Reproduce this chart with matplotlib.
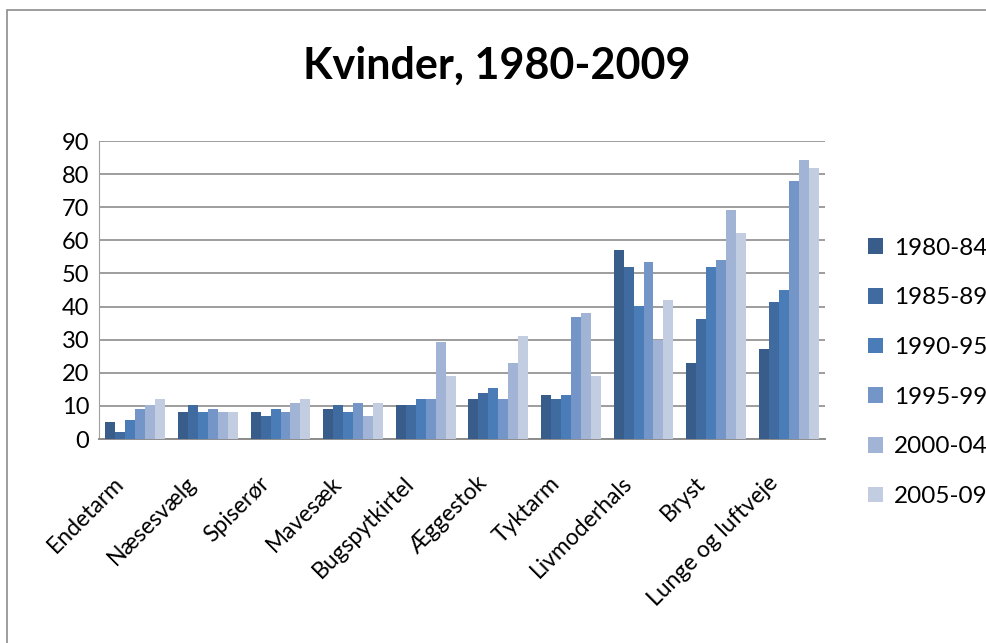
import matplotlib
matplotlib.use("Agg")
import matplotlib.pyplot as plt
import numpy as np
from matplotlib.patches import Patch, Rectangle
from matplotlib.transforms import ScaledTranslation

plt.rcParams['font.family'] = ['Lato', 'DejaVu Sans']

categories = ["Endetarm", "Næsesvælg", "Spiserør", "Mavesæk", "Bugspytkirtel",
              "Æggestok", "Tyktarm", "Livmoderhals", "Bryst", "Lunge og luftveje"]
periods = ["1980-84", "1985-89", "1990-95", "1995-99", "2000-04", "2005-09"]

s1980 = [5.1, 8.2, 8.2, 9.1, 10.2, 12.1, 13.3, 57.1, 23.0, 27.2]
s1985 = [2.1, 10.2, 6.9, 10.2, 10.2, 13.9, 12.1, 52.0, 36.3, 41.4]
s1990 = [5.7, 8.2, 9.1, 8.2, 12.1, 15.4, 13.3, 40.2, 52.0, 45.0]
s1995 = [9.1, 9.1, 8.2, 10.9, 12.1, 12.1, 36.9, 53.5, 54.1, 77.9]
s2000 = [10.2, 8.2, 10.9, 6.9, 29.3, 23.0, 38.1, 29.9, 69.2, 84.3]
s2005 = [12.1, 8.2, 12.1, 10.9, 19.0, 31.1, 19.0, 42.0, 62.2, 81.9]
series = [s1980, s1985, s1990, s1995, s2000, s2005]
colors = ["#385D8A", "#406BA0", "#4A7CB7", "#7395C8", "#A2B4D6", "#C3CDE2"]
yticks = [0, 10, 20, 30, 40, 50, 60, 70, 80, 90]

W, H = 986, 643
fig = plt.figure(figsize=(W / 100, H / 100), dpi=100)
ax = fig.add_axes([99 / W, 1 - 439 / H, (825 - 99) / W, (439 - 141) / H])

x = np.arange(len(categories))
bw = 0.1377
for i, (vals, c) in enumerate(zip(series, colors)):
    ax.bar(x + (i - 2.5) * bw, vals, width=bw, color=c, edgecolor='none',
           label=periods[i], zorder=3)

ax.set_xlim(-0.5, len(categories) - 0.5)
ax.set_ylim(0, 90)
ax.set_yticks(yticks)
ax.set_yticklabels([str(v) for v in yticks], fontsize=17)
ax.yaxis.grid(True, color='#8C8C8C', linewidth=1.2, zorder=0)
ax.set_axisbelow(True)
ax.tick_params(axis='y', length=0, pad=7)
ax.tick_params(axis='x', length=0, pad=4)
ax.set_xticks(x)
ax.set_xticklabels(categories, rotation=45, ha='right', va='top',
                   rotation_mode='anchor', fontsize=16.5)
offset = ScaledTranslation(-22 / 100, -28 / 100, fig.dpi_scale_trans)
for lbl in ax.get_xticklabels():
    lbl.set_transform(lbl.get_transform() + offset)
for s in ['top', 'right']:
    ax.spines[s].set_visible(False)
ax.spines['left'].set_color('#A0A0A0')
ax.spines['bottom'].set_color('#8C8C8C')
ax.spines['bottom'].set_linewidth(1.4)

fig.text(497 / W, 1 - 66 / H, "Kvinder, 1980-2009", ha='center', va='center',
         fontsize=31, fontweight='bold')

handles = [Patch(facecolor=c, edgecolor='none') for c in colors]
fig.legend(handles, periods, loc='upper left', bbox_to_anchor=(858 / W, 1 - 228 / H),
           frameon=False, fontsize=17.5, labelspacing=1.18, handlelength=0.62,
           handleheight=0.62, handletextpad=0.45, borderaxespad=0)

fig.add_artist(Rectangle((7 / W, -0.1), 1.2, 1 - 10 / H + 0.1, transform=fig.transFigure,
                         fill=False, edgecolor='#8C8C8C', linewidth=1.2))

fig.savefig("out.png", dpi=100)
